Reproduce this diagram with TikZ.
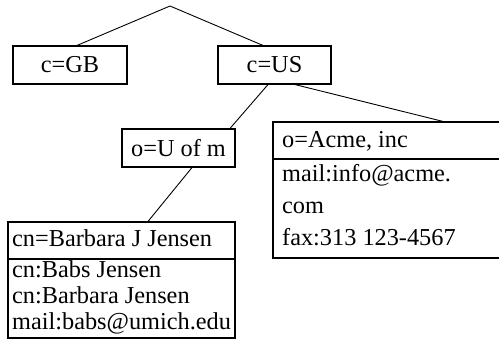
\documentclass[tikz,border=0pt]{standalone}
\usepackage{fontspec}
\setmainfont{Liberation Serif}
\begin{document}
\begin{tikzpicture}[x=1pt,y=-1pt,
  box/.style={draw,line width=1.1pt,rectangle,inner sep=0pt,minimum height=38pt,font=\fontsize{24.3}{26}\selectfont},
  frame/.style={draw,line width=1.1pt,rectangle,inner sep=0pt},
  txt/.style={anchor=base west,inner sep=0pt,font=\fontsize{24.3}{26}\selectfont},
  link/.style={line width=0.9pt}]
\useasboundingbox (0,0) rectangle (499,358);
\coordinate (root) at (170,6);
\node[box,minimum width=114pt] (gb) at (70,65) {c=GB};
\node[box,minimum width=113pt] (us) at (274.5,65) {c=US};
\node[box,minimum width=113pt] (uofm) at (178.5,148) {o=U of m};
% Acme entry
\node[frame,minimum width=236pt,minimum height=136pt] (acme) at (391,190) {};
\draw[line width=1.1pt] (acme.west |- 0,159) -- (acme.east |- 0,159);
\node[txt] (acme1) at (282,148) {o=Acme, inc};
\node[txt] (acme2) at (282,182) {mail:info@acme.};
\node[txt] (acme3) at (282,214) {com};
\node[txt] (acme4) at (282,246) {fax:313 123-4567};
% Barbara entry
\node[frame,minimum width=227pt,minimum height=116pt] (barb) at (121.5,280) {};
\draw[line width=1.1pt] (barb.west |- 0,259) -- (barb.east |- 0,259);
\node[txt] (barb1) at (12,247) {cn=Barbara J Jensen};
\node[txt] (barb2) at (12,278) {cn:Babs Jensen};
\node[txt] (barb3) at (12,304) {cn:Barbara Jensen};
\node[txt] (barb4) at (12,330) {mail:babs@umich.edu};
% connectors
\draw[link] ([xshift=7pt]gb.north) -- (root) -- ([xshift=-11.5pt]us.north);
\draw[link] ([xshift=-6.5pt]us.south) -- ([xshift=51.5pt]uofm.north);
\draw[link] ([xshift=20.5pt]us.south) -- ([xshift=52pt]acme.north);
\draw[link] ([xshift=13.5pt]uofm.south) -- ([xshift=26.5pt]barb.north);
\end{tikzpicture}
\end{document}
